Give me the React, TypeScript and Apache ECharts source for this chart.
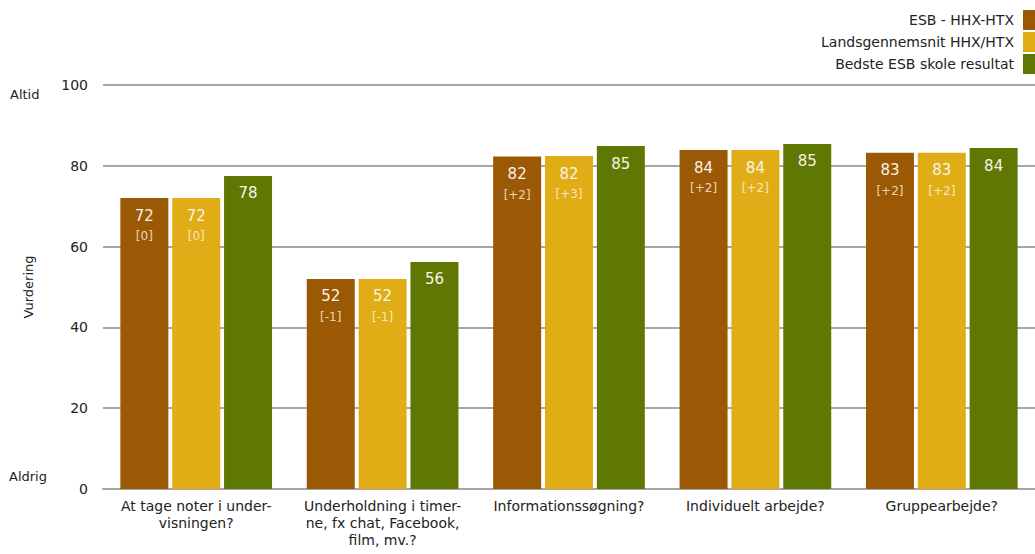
import React, { useEffect, useRef } from "react";
import * as echarts from "echarts";

const categories = [
  "At tage noter i under-\nvisningen?",
  "Underholdning i timer-\nne, fx chat, Facebook,\nfilm, mv.?",
  "Informationssøgning?",
  "Individuelt arbejde?",
  "Gruppearbejde?",
];
const seriesNames = ["ESB - HHX-HTX", "Landsgennemsnit HHX/HTX", "Bedste ESB skole resultat"];
const esbValues = [72, 52, 82.3, 83.9, 83.2];
const esbDelta = ["[0]", "[-1]", "[+2]", "[+2]", "[+2]"];
const landsValues = [72, 52, 82.4, 83.9, 83.2];
const landsDelta = ["[0]", "[-1]", "[+3]", "[+2]", "[+2]"];
const bestValues = [77.5, 56.2, 84.9, 85.4, 84.4];
const colors = ["#9B5906", "#E0AD17", "#5F7804"];
const yTicks = [0, 20, 40, 60, 80, 100];

const FONT = "DejaVu Sans";

export default function App() {
  const ref = useRef<HTMLDivElement>(null);
  useEffect(() => {
    const chart = echarts.init(ref.current!, null, { renderer: "svg" });
    const mkLabel = (deltas: string[] | null) => ({
      show: true,
      position: "insideTop",
      distance: 6,
      formatter: (p: any) =>
        deltas
          ? `{v|${Math.round(p.value)}}\n{d|${deltas[p.dataIndex]}}`
          : `{v|${Math.round(p.value)}}`,
      rich: {
        v: { fontFamily: FONT, fontSize: 15, color: "#F8F3E6", lineHeight: 23 },
        d: { fontFamily: FONT, fontSize: 12, color: "rgba(255,245,225,0.8)", lineHeight: 18 },
      },
    });
    chart.setOption({
      animation: false,
      grid: { left: 103, right: 0, top: 85, bottom: 65, containLabel: false, outerBoundsMode: "none" },
      legend: {
        orient: "vertical",
        right: 0,
        top: 10,
        padding: 0,
        align: "right",
        itemWidth: 12,
        itemHeight: 20,
        itemGap: 2,
        icon: "rect",
        textStyle: { fontFamily: FONT, fontSize: 14, color: "#222", padding: [0, 4, 0, 0] },
        data: seriesNames,
      },
      xAxis: {
        type: "category",
        data: categories,
        axisLine: { lineStyle: { color: "#A6A6A6", width: 2 } },
        axisTick: { show: false },
        axisLabel: {
          fontFamily: FONT,
          fontSize: 14,
          color: "#222",
          lineHeight: 17,
          margin: 8,
          interval: 0,
        },
      },
      yAxis: {
        type: "value",
        min: 0,
        max: 100,
        interval: 20,
        name: "Vurdering",
        nameLocation: "middle",
        nameGap: 68,
        nameTextStyle: { fontFamily: FONT, fontSize: 13, color: "#222" },
        axisLine: { show: false },
        axisTick: { show: false },
        splitLine: { lineStyle: { color: "#A6A6A6", width: 2 } },
        axisLabel: {
          fontFamily: FONT,
          fontSize: 14,
          color: "#222",
          margin: 15,
          formatter: (v: number) => (yTicks.includes(v) ? String(v) : ""),
        },
      },
      graphic: [
        { type: "text", left: 10, top: 88, style: { text: "Altid", font: `13px "${FONT}"`, fill: "#222" } },
        { type: "text", left: 9, top: 470, style: { text: "Aldrig", font: `13px "${FONT}"`, fill: "#222" } },
      ],
      series: [
        { name: seriesNames[0], type: "bar", data: esbValues, barWidth: 48, barGap: "8%", itemStyle: { color: colors[0] }, label: mkLabel(esbDelta) },
        { name: seriesNames[1], type: "bar", data: landsValues, barWidth: 48, barGap: "8%", itemStyle: { color: colors[1] }, label: mkLabel(landsDelta) },
        { name: seriesNames[2], type: "bar", data: bestValues, barWidth: 48, barGap: "8%", itemStyle: { color: colors[2] }, label: mkLabel(null) },
      ],
    });
    return () => chart.dispose();
  }, []);
  return (
    <div
      ref={ref}
      style={{ position: "absolute", left: 0, top: 0, width: 1035, height: 554, background: "#fff" }}
    />
  );
}
